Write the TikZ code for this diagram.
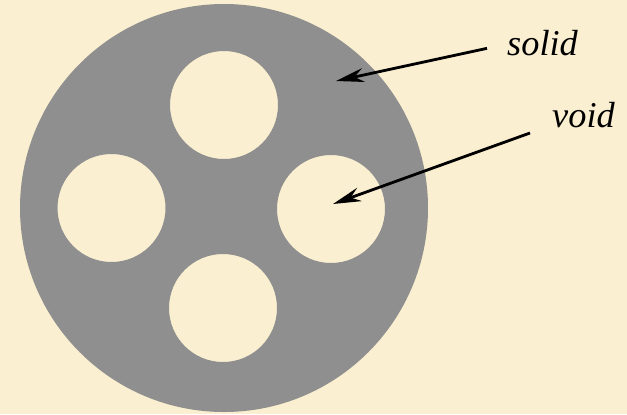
\documentclass[tikz,border=0pt]{standalone}
\usepackage{fontspec}
\setmainfont{Liberation Serif}
\newfontfamily\tagfont{Liberation Serif}
\usepackage{tikz}
\usetikzlibrary{arrows.meta, positioning}
\definecolor{parchment}{RGB}{250, 239, 208}
\definecolor{solidgray}{RGB}{143, 143, 143}
\tikzset{
  tagtext/.style={font=\tagfont\itshape\fontsize{31}{36}\selectfont, inner sep=0pt, anchor=base west},
  callout/.style={line width=2.4pt, -{Stealth[length=24pt, width=12pt, inset=8pt]}}
}

\begin{document}
\begin{tikzpicture}[x=0.03cm, y=-0.03cm]
        % Background
        \fill[parchment] (0,0) rectangle (627,414);
        \useasboundingbox (0,0) rectangle (627,414);

        % Disc with four holes
        \fill[solidgray, even odd rule]
          (224,208)   circle[radius=204]
          (224,105)   circle[radius=54]
          (111.5,208) circle[radius=54]
          (331,209)   circle[radius=54]
          (223,308)   circle[radius=54];

        % Labels
        \node[tagtext] (solid) at (507,55)  {solid};
        \node[tagtext] (void)  at (552,127) {void};

        % Arrow tips
        \coordinate (solidpt) at (336,81);
        \coordinate (voidpt)  at (333,204);

        % Arrows
        \draw[callout] ([xshift=-0.6cm, yshift=0.2cm]solid.base west) -- (solidpt);
        \draw[callout] ([xshift=-0.66cm, yshift=-0.18cm]void.base west) -- (voidpt);
      \end{tikzpicture}
\end{document}
